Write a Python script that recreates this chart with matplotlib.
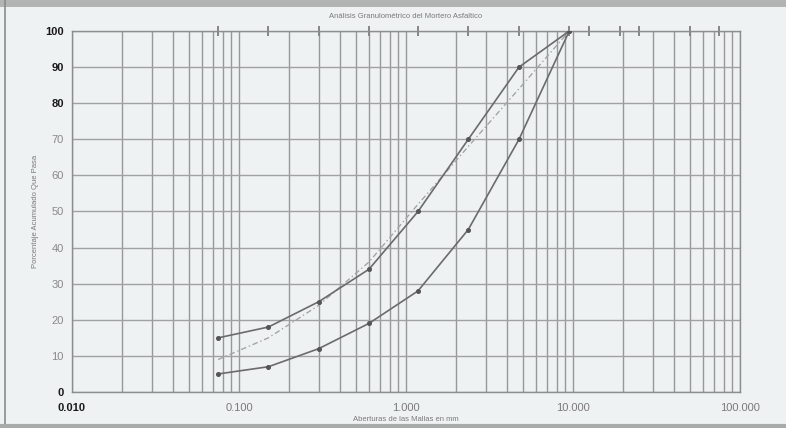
import numpy as np
import matplotlib
matplotlib.use("Agg")
import matplotlib.pyplot as plt
from matplotlib.lines import Line2D
from matplotlib.ticker import FixedLocator, LogLocator, NullFormatter

# Sieve openings (mm) and cumulative percent passing
sieves = [0.075, 0.15, 0.3, 0.6, 1.18, 2.36, 4.75, 9.5]
upper_limit = [15, 18, 25, 34, 50, 70, 90, 100]
lower_limit = [5, 7, 12, 19, 28, 45, 70, 100]
mix_curve = [9, 15, 24, 36, 52, 68, 84, 100]

# Standard sieve marks shown along the top border
sieve_marks = [0.075, 0.15, 0.3, 0.6, 1.18, 2.36, 4.75, 9.5, 12.5, 19, 25, 50, 75]

y_ticks = [0, 10, 20, 30, 40, 50, 60, 70, 80, 90, 100]
x_ticks = [0.01, 0.1, 1, 10, 100]
x_tick_labels = ["0.010", "0.100", "1.000", "10.000", "100.000"]

title = "Análisis Granulométrico del Mortero Asfaltico"
x_label = "Aberturas de las Mallas en mm"
y_label = "Porcentaje Acumulado Que Pasa"

plt.rcParams["font.family"] = ["Liberation Sans", "DejaVu Sans"]

bg = "#eff2f2"
fig = plt.figure(figsize=(7.86, 4.28), dpi=100, facecolor=bg)
ax = fig.add_axes([0.0916, 0.0841, 0.8499, 0.8435], facecolor=bg)

ax.set_xscale("log")
ax.set_xlim(0.01, 100)
ax.set_ylim(0, 100)

# grid
ax.xaxis.set_major_locator(FixedLocator(x_ticks))
ax.xaxis.set_minor_locator(LogLocator(base=10, subs=np.arange(2, 10)))
ax.xaxis.set_minor_formatter(NullFormatter())
ax.set_xticklabels(x_tick_labels)
ax.set_yticks(y_ticks)
ax.grid(True, which="both", axis="x", color="#96989a", lw=1.0)
ax.grid(True, which="major", axis="y", color="#a0a2a2", lw=1.0)
ax.set_axisbelow(True)
ax.tick_params(which="both", length=0)
ax.tick_params(axis="x", pad=8, labelsize=8, labelcolor="#7a7a7a")
ax.tick_params(axis="y", pad=6, labelsize=8, labelcolor="#8a8a8a")
for lbl in ax.get_yticklabels():
    if lbl.get_text() in ("0", "80", "90", "100"):
        lbl.set_color("#1a1a1a")
        lbl.set_fontweight("bold")
for lbl in ax.get_xticklabels():
    if lbl.get_text() == "0.010":
        lbl.set_color("#1a1a1a")
        lbl.set_fontweight("bold")

for s in ax.spines.values():
    s.set_color("#8c8e8e")
    s.set_linewidth(1.0)

# sieve marks crossing the top border
ax.vlines(sieve_marks, 0.985, 1.015, transform=ax.get_xaxis_transform(),
          color="#858787", lw=1.4, clip_on=False)

# gradation curves
ax.plot(sieves, upper_limit, color="#6a6c6c", lw=1.2, marker="o", ms=2.6,
        mfc="#555", mec="#555", zorder=3)
ax.plot(sieves, lower_limit, color="#6a6c6c", lw=1.2, marker="o", ms=2.6,
        mfc="#555", mec="#555", zorder=3)
ax.plot(sieves, mix_curve, color="#a4a6a6", lw=1.0, ls=(0, (4, 2, 1, 2)),
        zorder=2)

ax.set_title(title, fontsize=5.5, color="#7a7a7a", pad=9)
ax.set_xlabel(x_label, fontsize=5.5, color="#7a7a7a", labelpad=2)
ax.set_ylabel(y_label, fontsize=5.5, color="#7a7a7a", labelpad=4)

# page edges
fig.add_artist(Line2D([0, 1], [0.994, 0.994], transform=fig.transFigure,
                      color="#b2b4b4", lw=5))
fig.add_artist(Line2D([0.006, 0.006], [0, 1], transform=fig.transFigure,
                      color="#8a8c8c", lw=1.2))
fig.add_artist(Line2D([0, 1], [0.004, 0.004], transform=fig.transFigure,
                      color="#a9abab", lw=3))

fig.savefig("out.png", dpi=100, facecolor=bg)
